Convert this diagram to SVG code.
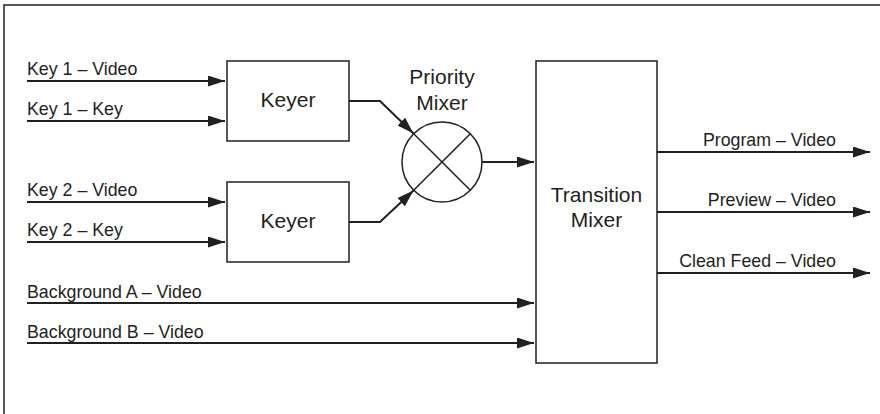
<svg xmlns="http://www.w3.org/2000/svg" width="880" height="414" viewBox="0 0 880 414">
  <style>
    .frame { fill: none; stroke: #231f20; stroke-width: 1.5; }
    .box { fill: #ffffff; stroke: #231f20; stroke-width: 1.5; }
    .wire { fill: none; stroke: #231f20; stroke-width: 2; marker-end: url(#arrow); }
    .lbl { font-family: "Liberation Sans", Arial, sans-serif; font-size: 17.8px; fill: #231f20; }
    .big { font-family: "Liberation Sans", Arial, sans-serif; font-size: 21px; fill: #231f20; text-anchor: middle; }
    .end { text-anchor: end; }
  </style>
  <defs>
    <marker id="arrow" markerUnits="userSpaceOnUse" markerWidth="18" markerHeight="12" refX="17" refY="5.5" orient="auto">
      <path d="M0,0 L17,5.5 L0,11 z" fill="#231f20"/>
    </marker>
  </defs>
  <rect width="880" height="414" fill="#ffffff"/>
  <path class="frame" d="M4,414 V5 H880"/>

  <g id="connectors">
    <path class="wire" d="M27,81 H225"/>
    <path class="wire" d="M27,121 H225"/>
    <path class="wire" d="M27,202 H225"/>
    <path class="wire" d="M27,242 H225"/>
    <path class="wire" d="M27,303 H534"/>
    <path class="wire" d="M27,343 H534"/>
    <path class="wire" d="M349,101 H380 L413.5,133.5"/>
    <path class="wire" d="M349,222 H380 L413.5,190.5"/>
    <path class="wire" d="M482,162 H534"/>
    <path class="wire" d="M657,152 H870"/>
    <path class="wire" d="M657,212 H870"/>
    <path class="wire" d="M657,273 H870"/>
  </g>

  <g id="labels">
    <text class="lbl" x="27" y="75">Key 1 – Video</text>
    <text class="lbl" x="27" y="115">Key 1 – Key</text>
    <text class="lbl" x="27" y="196">Key 2 – Video</text>
    <text class="lbl" x="27" y="236">Key 2 – Key</text>
    <text class="lbl" x="27" y="298">Background A – Video</text>
    <text class="lbl" x="27" y="338">Background B – Video</text>
    <text class="lbl end" x="836" y="146">Program – Video</text>
    <text class="lbl end" x="836" y="206">Preview – Video</text>
    <text class="lbl end" x="836" y="267">Clean Feed – Video</text>
  </g>

  <g id="keyer1">
    <rect class="box" x="227" y="61" width="122" height="80"/>
    <text class="big" x="288" y="107">Keyer</text>
  </g>
  <g id="keyer2">
    <rect class="box" x="227" y="182" width="122" height="80"/>
    <text class="big" x="288" y="228">Keyer</text>
  </g>
  <g id="priority-mixer">
    <circle class="box" cx="442" cy="162" r="40"/>
    <path d="M413.7,133.7 L470.3,190.3 M470.3,133.7 L413.7,190.3" stroke="#231f20" stroke-width="1.5" fill="none"/>
    <text class="big" x="442" y="84">Priority</text>
    <text class="big" x="442" y="110">Mixer</text>
  </g>
  <g id="transition-mixer">
    <rect class="box" x="536" y="61" width="121" height="302"/>
    <text class="big" x="596.5" y="202">Transition</text>
    <text class="big" x="596.5" y="227">Mixer</text>
  </g>
</svg>
